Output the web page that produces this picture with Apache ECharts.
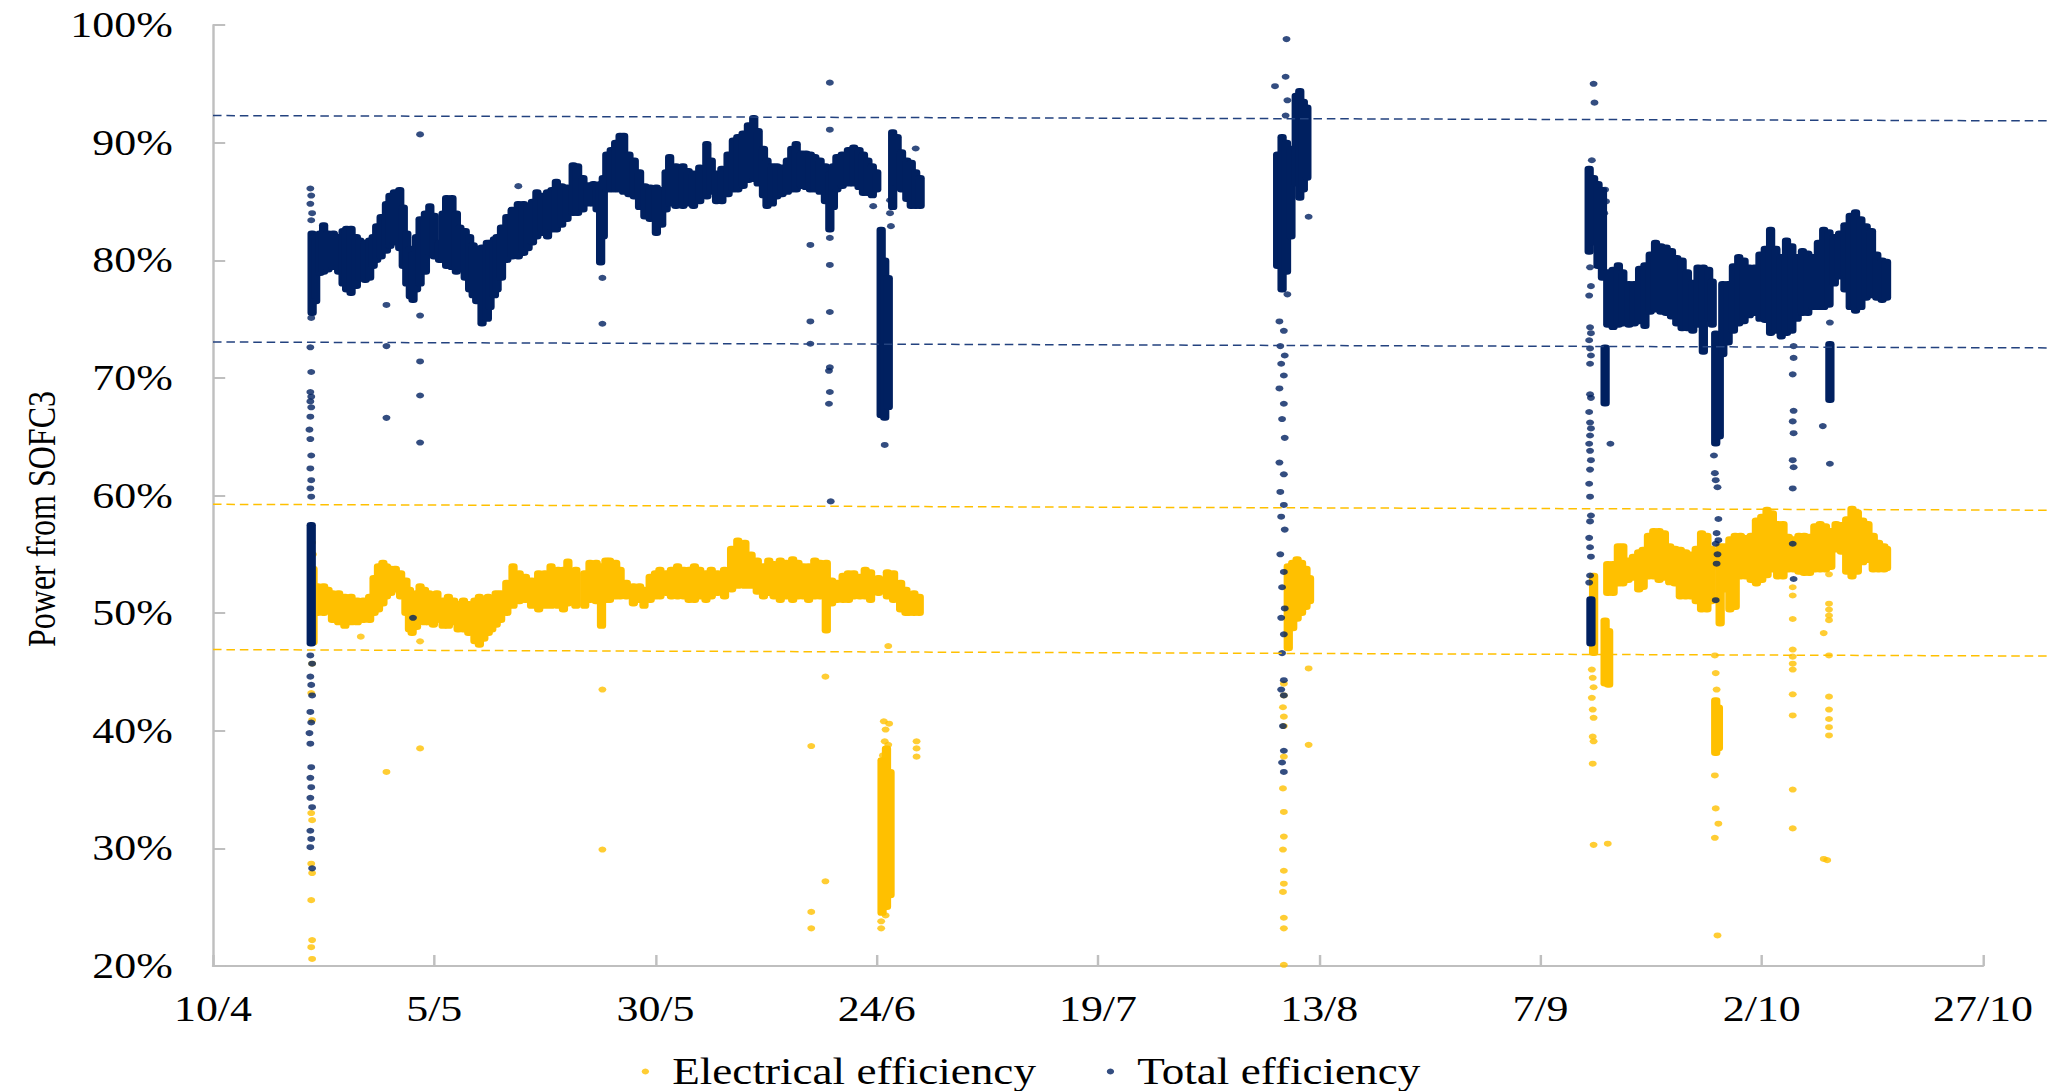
<!DOCTYPE html>
<html><head><meta charset="utf-8">
<script src="https://cdn.jsdelivr.net/npm/echarts@6/dist/echarts.min.js"></script>
<style>
html,body{margin:0;padding:0;overflow:hidden;background:#fff}
#chart{width:1678px;height:1091px;transform:scaleX(1.22);transform-origin:0 0;}
</style></head>
<body><div id="chart"></div>
<script>
// x values are days counted from 10/4
const tickLabels = ['10/4','5/5','30/5','24/6','19/7','13/8','7/9','2/10','27/10'];
const tickStepDays = 25;

// dense parts: [day, low %, high %]
const totalBand = [
[11.1,47.4,57.5],[11.2,75.5,82.3],[11.6,76.5,82.0],
[12.1,78.9,82.3],[12.5,79.0,83.0],[13.0,79.2,82.3],[13.6,79.4,82.3],[14.2,79.0,82.0],[14.7,78.0,82.5],[15.1,77.5,82.7],[15.6,77.2,82.7],[16.2,77.8,82.0],[16.6,78.5,81.7],[17.2,78.3,81.5],[17.7,78.5,81.7],[18.1,79.5,82.0],[18.5,80.0,82.9],[19.0,80.3,83.7],[19.6,80.8,84.8],[20.0,81.2,85.5],[20.5,81.5,85.8],[21.1,81.0,86.0],[21.5,79.5,84.5],[21.9,78.0,82.3],[22.3,76.9,81.0],[22.6,76.6,80.5],[23.0,77.5,82.0],[23.4,78.0,83.5],[24.0,79.0,84.0],[24.5,80.6,84.6],[25.0,80.3,83.8],[25.6,80.0,81.5],[26.0,80.0,84.0],[26.4,79.5,85.3],[27.0,79.4,85.3],[27.5,79.0,84.0],[27.9,79.3,82.8],[28.5,78.5,82.5],[29.0,77.5,82.0],[29.4,77.0,81.3],[29.8,76.5,81.0],[30.4,74.6,81.1],[31.0,75.0,81.5],[31.3,76.0,81.5],[31.8,77.0,81.8],[32.1,77.5,82.0],[32.6,78.5,82.8],[33.2,80.0,83.7],[33.8,80.3,84.3],[34.5,80.3,84.8],[35.1,80.6,84.8],[35.6,81.0,84.5],[36.1,81.5,85.0],[36.6,82.0,85.8],[37.2,82.3,85.5],[37.8,82.0,85.8],[38.3,82.6,86.0],[38.8,82.6,86.7],[39.4,83.0,86.3],[40.0,83.5,86.2],[40.7,84.0,88.1],[41.2,84.0,88.0],[41.8,84.3,87.0],[42.4,84.8,86.4],[43.0,84.8,86.5],[43.4,84.3,86.4],[43.8,79.8,86.5],[44.1,82.0,87.0],[44.5,86.0,89.0],[45.0,86.0,89.4],[45.5,86.0,90.0],[46.0,86.0,90.6],[46.4,85.8,90.6],[47.0,85.6,89.0],[47.6,85.4,88.5],[48.2,84.5,87.5],[48.8,83.7,86.3],[49.4,83.5,86.2],[50.1,82.3,86.2],[50.7,83.0,86.0],[51.2,84.3,87.5],[51.6,84.8,88.8],[52.3,84.6,88.0],[53.1,84.6,88.0],[53.7,84.8,87.6],[54.3,84.6,87.4],[55.0,85.0,87.9],[55.8,85.4,89.9],[56.3,85.8,88.5],[56.9,85.0,87.4],[57.5,85.0,87.8],[58.2,85.6,89.0],[58.8,86.0,90.2],[59.3,86.0,90.5],[59.9,86.3,90.8],[60.5,86.8,91.5],[61.1,86.9,92.1],[61.6,86.5,91.0],[62.2,85.5,89.5],[62.6,84.6,88.5],[63.2,84.8,88.0],[63.7,85.4,88.0],[64.3,85.6,87.9],[64.9,85.8,88.5],[65.4,86.0,89.5],[65.9,86.0,89.9],[66.5,86.3,89.1],[67.0,86.2,89.1],[67.5,86.0,89.0],[68.0,86.0,88.8],[68.6,85.8,88.5],[69.2,85.0,88.0],[69.7,82.6,87.3],[70.1,84.5,88.0],[70.5,86.0,88.8],[71.1,86.3,89.0],[71.8,86.5,89.4],[72.4,86.5,89.6],[73.0,86.2,89.4],[73.5,85.7,89.0],[74.0,85.7,88.5],[74.5,85.5,88.0],[75.0,86.0,87.5],
[75.5,66.8,82.6],[75.9,66.6,80.0],[76.3,67.5,78.5],
[76.8,84.5,90.9],[77.3,86.5,90.5],[77.8,86.0,89.2],[78.4,85.2,88.5],[78.9,84.6,88.3],[79.4,84.6,87.5],[79.9,84.6,87.0],
[120.3,79.5,89.0],[120.8,77.5,90.5],[121.3,79.0,90.0],[121.8,82.0,89.5],[122.4,86.5,94.0],[122.8,85.3,94.4],[123.2,86.0,93.5],[123.6,87.0,93.0],
[155.5,80.7,87.8],[155.7,47.4,51.2],[156.0,81.5,87.0],[156.5,79.5,86.5],[157.0,78.5,86.0],[157.3,67.8,72.6],
[157.6,74.5,79.0],[158.2,74.3,79.2],[158.8,74.5,79.6],[159.3,74.6,79.0],[160.0,74.5,78.0],[160.6,74.6,78.0],[161.2,74.8,79.3],[161.8,74.4,79.6],[162.4,75.6,80.5],[163.0,75.8,81.5],[163.6,75.6,81.2],[164.2,75.5,81.1],[164.8,75.2,80.8],[165.4,74.6,80.2],[166.0,74.2,80.0],[166.6,74.2,79.0],[167.2,74.0,78.1],[167.8,74.5,79.4],[168.4,72.2,79.4],[169.0,75.0,79.2],[169.4,74.5,78.2],[169.8,64.4,73.8],[170.2,65.0,72.0],[170.6,72.0,78.0],[171.2,73.0,78.0],[171.8,74.0,79.5],[172.4,74.6,80.3],[173.0,74.8,80.0],[173.6,75.3,79.4],[174.2,75.5,79.4],[174.8,75.0,80.5],[175.4,74.9,81.0],[176.0,73.8,82.6],[176.6,74.0,81.0],[177.2,73.5,80.3],[177.8,73.8,81.7],[178.4,74.0,81.2],[179.0,75.0,80.3],[179.6,75.5,80.8],[180.2,75.5,80.6],[180.8,76.0,80.3],[181.4,76.0,81.5],[182.0,76.0,82.6],[182.6,76.2,82.4],[182.7,68.1,72.9],[183.2,78.0,82.0],[183.8,78.6,82.3],[184.4,77.5,83.0],[185.0,76.0,83.8],[185.6,75.7,84.1],[186.2,76.0,83.5],[186.8,76.8,82.9],[187.4,77.0,82.5],[188.0,76.8,80.5],[188.6,76.6,80.0],[189.1,76.8,79.9]
];

// single points: [day, %]
const totalPts = [
[11.0,86.1],[11.1,85.5],[11.0,84.8],[11.2,84.0],[11.1,83.4],[11.3,76.5],[11.1,75.1],[11.0,72.6],[11.1,70.5],[11.0,68.8],[11.1,68.4],[11.0,68.0],[11.1,67.5],[11.0,66.7],[10.9,65.6],[11.0,64.8],[11.1,63.4],[11.0,62.3],[11.1,61.3],[11.0,60.6],[11.1,59.9],[11.0,46.4],[11.2,45.7],[11.0,44.6],[11.1,43.9],[11.2,43.0],[11.0,41.6],[11.1,40.7],[10.9,39.8],[11.0,38.9],[11.1,36.9],[11.0,36.0],[11.1,35.2],[11.0,34.3],[11.2,33.5],[11.0,31.5],[11.1,30.8],[11.0,30.1],[11.2,28.3],
[19.6,76.2],[19.6,72.7],[19.6,66.6],[23.4,90.7],[23.4,75.3],[23.4,71.4],[23.4,68.5],[23.4,64.5],[22.6,49.6],[34.5,86.3],[44.0,78.5],[44.0,74.6],[67.5,81.3],[67.5,74.8],[67.5,72.9],[69.7,95.1],[69.7,91.1],[69.7,81.9],[69.7,79.6],[69.7,75.6],[69.7,70.9],[69.6,70.6],[69.7,68.8],[69.6,67.8],[69.8,59.5],[74.6,84.6],[75.9,64.3],[76.5,85.1],[76.5,84.0],[76.6,82.9],[79.4,89.5],
[121.3,98.8],[121.2,95.6],[120.0,94.8],[121.4,93.6],[121.2,92.3],[123.8,83.7],[121.4,77.1],[120.5,74.8],[121.0,74.0],[120.6,72.7],[121.1,71.9],[120.7,71.2],[121.0,70.2],[120.5,69.1],[121.0,67.8],[120.8,66.5],[121.1,64.9],[120.5,62.8],[121.0,61.8],[120.6,60.3],[121.0,59.2],[120.7,58.2],[121.1,57.1],[120.6,55.0],[121.0,53.5],[120.8,52.2],[121.1,50.4],[120.7,49.6],[121.0,48.2],[120.8,46.6],[121.0,44.3],[120.7,43.5],[121.0,43.0],[120.9,40.4],[121.0,38.3],[120.8,37.3],[121.0,36.5],
[156.0,95.0],[156.1,93.4],[155.8,88.5],[155.6,79.4],[155.7,77.8],[155.5,77.0],[155.6,74.3],[155.7,73.8],[155.5,73.2],[155.6,72.5],[155.7,71.9],[155.6,71.2],[155.6,68.6],[155.7,68.3],[155.5,67.1],[155.6,66.2],[155.7,65.7],[155.6,65.1],[155.5,64.4],[155.6,63.8],[155.7,63.0],[155.6,62.2],[155.5,61.0],[155.6,59.9],[155.7,58.3],[155.6,57.8],[155.5,56.4],[155.6,55.6],[155.7,54.8],[155.6,53.2],[155.5,52.6],
[157.3,86.0],[157.4,85.0],[157.2,84.0],[157.9,64.4],
[169.6,63.4],[169.7,61.9],[169.8,61.3],[170.0,60.7],[170.1,58.0],[169.9,56.8],[170.1,56.2],[169.8,55.9],[170.0,55.0],[169.9,54.2],[169.8,51.1],
[178.6,72.7],[178.6,71.7],[178.5,70.3],[178.6,67.2],[178.5,66.3],[178.6,65.3],[178.5,63.0],[178.6,62.4],[178.5,60.6],[178.5,55.9],[178.6,52.9],
[182.7,74.7],[181.9,65.9],[182.7,62.7]
];

const elecBand = [
[11.3,47.5,53.8],[11.8,50.0,52.3],[12.5,50.0,52.3],[13.0,50.3,52.0],[13.5,49.4,51.7],[14.2,49.2,51.7],[14.9,48.9,51.4],[15.6,49.2,51.4],[16.3,49.2,51.1],[17.0,49.4,51.1],[17.7,49.4,51.4],[18.2,50.0,53.0],[18.7,50.3,54.0],[19.2,50.8,54.3],[19.6,51.4,54.0],[20.1,51.7,53.8],[20.6,52.0,53.8],[21.2,51.4,53.4],[21.8,50.0,52.8],[22.2,48.6,52.0],[22.5,48.3,51.4],[23.0,48.8,51.7],[23.4,49.4,52.3],[23.9,49.2,52.0],[24.4,49.2,51.7],[24.9,49.0,51.4],[25.3,49.4,51.7],[26.0,48.9,51.1],[26.6,48.9,51.4],[27.2,49.2,51.1],[27.7,48.6,50.8],[28.3,48.6,51.1],[28.9,48.3,50.8],[29.6,47.6,51.1],[30.1,47.3,51.4],[30.6,47.8,51.1],[31.1,48.3,51.4],[31.5,48.6,51.1],[32.0,49.0,51.7],[32.5,49.4,51.7],[33.2,50.0,52.6],[33.9,50.6,54.0],[34.6,51.0,53.4],[35.3,51.1,53.1],[36.0,50.6,52.8],[36.8,50.3,53.4],[37.5,50.6,53.4],[38.2,50.6,54.0],[39.0,50.6,53.7],[39.6,50.3,53.7],[40.1,50.8,54.4],[41.0,50.6,53.7],[42.0,50.6,53.4],[42.6,51.1,54.3],[43.3,51.0,54.3],[43.9,48.9,54.0],[44.4,51.1,54.5],[44.8,51.1,54.5],[45.5,51.4,54.3],[46.0,51.4,53.7],[46.7,51.4,52.6],[47.5,50.8,52.3],[48.2,51.1,52.3],[48.7,50.6,52.0],[49.4,51.1,53.1],[50.0,51.4,53.4],[50.5,51.4,53.7],[51.2,51.7,53.4],[51.8,51.4,53.7],[52.5,51.4,54.0],[53.2,51.4,53.7],[53.8,51.1,53.7],[54.4,51.1,54.0],[55.0,51.4,53.7],[55.7,51.1,53.4],[56.3,51.4,53.7],[57.0,51.7,53.4],[57.8,51.4,53.7],[58.6,52.0,55.5],[59.3,52.3,56.2],[60.1,52.3,56.0],[60.8,52.3,55.0],[61.5,51.8,54.5],[62.2,51.4,54.0],[62.8,51.7,54.5],[63.4,51.4,54.2],[64.1,51.1,54.5],[64.8,51.4,54.3],[65.5,51.1,54.6],[66.1,51.4,54.3],[66.7,51.4,54.0],[67.3,51.1,54.0],[68.0,51.4,54.5],[68.6,51.4,54.3],[69.3,48.5,54.3],[69.9,50.8,52.8],[70.5,51.1,52.6],[71.2,51.1,53.2],[71.8,51.1,53.4],[72.4,51.4,53.4],[73.1,51.4,53.1],[73.7,51.4,53.7],[74.3,51.1,53.5],[75.2,51.7,53.0],[76.2,51.4,53.5],[76.9,51.1,53.4],[77.7,50.3,52.6],[78.3,50.0,52.0],[78.6,50.0,51.4],[79.2,50.0,51.7],[79.8,50.0,51.4],
[75.6,24.5,37.5],[76.1,25.0,38.5],[76.5,26.0,36.5],
[121.5,47.0,54.0],[122.0,48.7,54.3],[122.5,49.5,54.6],[123.0,50.0,54.3],[123.5,50.5,53.8],[123.9,51.0,53.0],
[156.0,46.6,53.2],[157.3,44.0,49.4],[157.7,43.9,48.5],[169.8,38.1,42.6],[170.1,38.5,42.0],
[157.6,51.7,54.2],[158.2,51.7,54.2],[158.8,52.5,55.7],[159.3,52.5,55.7],[159.9,52.8,54.5],[160.5,53.0,54.8],[161.1,52.0,55.2],[161.6,52.2,55.4],[162.2,53.1,56.6],[162.8,53.1,57.0],[163.4,52.8,57.0],[164.0,53.0,56.8],[164.6,52.6,55.7],[165.2,52.5,55.5],[165.8,51.4,55.4],[166.4,51.4,55.2],[167.0,51.4,55.0],[167.6,51.0,55.5],[168.2,50.3,56.8],[168.8,50.3,56.6],[169.3,51.0,55.5],[170.3,49.1,55.7],[170.8,52.0,55.7],[171.4,50.3,56.3],[172.0,50.5,56.6],[172.6,53.1,56.6],[173.2,53.1,56.4],[173.8,52.8,56.6],[174.4,52.5,57.9],[175.0,52.8,58.2],[175.6,53.2,58.8],[176.2,53.7,58.5],[176.8,53.1,57.6],[177.4,53.1,57.6],[178.0,53.7,56.5],[178.6,53.7,56.3],[179.2,53.5,56.6],[179.8,53.4,56.6],[180.4,53.4,56.5],[181.0,53.7,57.4],[181.6,53.7,57.6],[182.2,53.7,57.4],[182.8,53.9,57.0],[183.4,55.4,57.6],[184.0,55.2,57.5],[184.6,53.5,58.0],[185.2,53.1,58.9],[185.8,53.5,58.6],[186.4,54.3,57.9],[187.0,54.5,57.6],[187.6,53.7,56.6],[188.2,53.7,56.0],[188.8,53.7,55.7],[189.1,53.8,55.5]
];

const elecPts = [
[11.2,56.0],[11.3,55.0],[11.2,45.7],[11.1,43.2],[11.2,40.9],[11.1,33.0],[11.2,32.4],[11.1,28.7],[11.2,27.9],[11.1,25.6],[11.2,22.2],[11.1,21.6],[11.2,20.6],
[16.7,48.0],[19.6,36.5],[23.4,38.5],[23.4,47.6],[44.0,43.5],[44.0,29.9],[67.6,38.7],[67.6,24.6],[67.6,23.2],[69.2,44.6],[69.2,27.2],[76.3,47.2],[79.5,39.1],[79.5,38.5],[79.5,37.8],
[75.8,40.8],[76.4,40.6],[76.0,40.1],[75.9,39.1],[76.3,38.8],[75.7,37.9],[75.5,23.2],[75.5,23.8],[76.0,24.3],
[123.8,45.3],[123.8,38.8],[121.0,44.0],[121.0,43.0],[120.9,42.0],[121.0,41.2],[121.0,40.4],[121.0,37.8],[120.9,35.1],[121.0,33.1],[121.0,31.0],[120.9,29.9],[121.0,28.1],[121.0,27.0],[120.9,26.3],[121.0,24.1],[121.0,23.2],[121.0,20.1],
[155.8,45.2],[155.9,44.5],[156.0,43.7],[155.8,42.8],[155.9,41.8],[156.0,41.1],[155.9,39.5],[156.0,39.1],[155.9,37.2],[156.0,30.3],[157.6,30.4],
[169.7,46.4],[169.8,44.9],[169.9,43.5],[169.7,36.2],[169.8,33.4],[170.1,32.1],[169.7,30.9],[170.0,22.6],
[178.5,52.2],[178.5,51.5],[178.5,49.5],[178.5,46.9],[178.5,46.3],[178.5,45.7],[178.5,45.2],[178.5,43.1],[178.5,41.3],[178.5,35.0],[178.5,31.7],
[182.0,48.3],[182.6,53.3],[182.6,50.8],[182.6,50.3],[182.6,49.8],[182.6,49.4],[182.6,46.4],[182.6,42.9],[182.6,41.8],[182.6,41.0],[182.6,40.3],[182.6,39.6],[182.0,29.1],[182.4,29.0]
];

// dashed reference lines: [value at left edge, value at right edge]
const totalUpperRef = [92.3, 91.85];
const totalLowerRef = [73.05, 72.55];
const elecUpperRef = [59.25, 58.75];
const elecLowerRef = [46.9, 46.35];

const NAVY = '#002060', GOLD = '#FFC000';
const S = 1.22;                 // horizontal stretch of the reference
const W = 1678;                 // container width before stretch
const GL = 213 / S, GR = W - 1983 / S, GT = 25, GB = 125;
const refXMax = 200 * (W - GL) / (W - GL - GR);
const FONT = "'Liberation Serif','Times New Roman',serif";

function band(color) {
  return function (params, api) {
    const x = api.value(0), lo = api.value(1), hi = api.value(2);
    const a = api.coord([x, hi]), b = api.coord([x, lo]);
    const w = 7.6, pad = 2.8;
    return { type: 'rect',
      shape: { x: a[0] - w / 2, y: a[1] - pad, width: w, height: b[1] - a[1] + 2 * pad, r: 3.2 },
      style: { fill: color } };
  };
}
function refLine(name, vals, color) {
  return { name: name, type: 'line', xAxisIndex: 1, yAxisIndex: 1, symbol: 'none', silent: true, z: 5,
    data: [[0, vals[0]], [refXMax, vals[1]]],
    lineStyle: { color: color, width: 1.5, type: [7, 4] } };
}

const chart = echarts.init(document.getElementById('chart'), null, { renderer: 'svg' });
chart.setOption({
  animation: false,
  backgroundColor: '#fff',
  grid: [
    { left: GL, right: GR, top: GT, bottom: GB },
    { left: GL, right: 0, top: GT, bottom: GB }
  ],
  xAxis: [
    { type: 'value', gridIndex: 0, min: 0, max: 200, interval: tickStepDays,
      axisLine: { lineStyle: { color: '#BFBFBF', width: 2 } },
      axisTick: { inside: true, length: 11, lineStyle: { color: '#BFBFBF', width: 2 } },
      splitLine: { show: false },
      axisLabel: { margin: 25, color: '#000', fontFamily: FONT, fontSize: 36,
        formatter: v => tickLabels[Math.round(v / tickStepDays)] } },
    { type: 'value', gridIndex: 1, min: 0, max: refXMax, show: false }
  ],
  yAxis: [
    { type: 'value', gridIndex: 0, min: 20, max: 100, interval: 10,
      axisLine: { show: true, lineStyle: { color: '#BFBFBF', width: 2 } },
      axisTick: { show: true, inside: true, length: 10, lineStyle: { color: '#BFBFBF', width: 2 } },
      splitLine: { show: false },
      axisLabel: { margin: 33, color: '#000', fontFamily: FONT, fontSize: 36, formatter: '{value}%' } },
    { type: 'value', gridIndex: 1, min: 20, max: 100, show: false }
  ],
  legend: {
    data: ['Electrical efficiency', 'Total efficiency'],
    left: 521, top: 1048, icon: 'circle', itemWidth: 6, itemHeight: 6, itemGap: 58,
    textStyle: { fontFamily: FONT, fontSize: 37, color: '#000', lineHeight: 37, padding: [0, 0, 0, 14] }
  },
  graphic: [{
    type: 'text', x: 34, y: 519, rotation: Math.PI / 2,
    style: { text: 'Power from SOFC3', font: "32px 'Liberation Serif','Times New Roman',serif",
      fill: '#000', textAlign: 'center', textVerticalAlign: 'middle' }
  }],
  series: [
    { name: 'Electrical efficiency', type: 'scatter', data: elecPts, symbolSize: [6.5, 6],
      itemStyle: { color: GOLD }, z: 2 },
    { name: 'elecBand', type: 'custom', data: elecBand, renderItem: band(GOLD),
      encode: { x: 0, y: [1, 2] }, itemStyle: { color: GOLD }, z: 2 },
    { name: 'Total efficiency', type: 'scatter', data: totalPts, symbolSize: [6.5, 6],
      itemStyle: { color: NAVY }, z: 3 },
    { name: 'totalBand', type: 'custom', data: totalBand, renderItem: band(NAVY),
      encode: { x: 0, y: [1, 2] }, itemStyle: { color: NAVY }, z: 3 },
    refLine('ref1', totalUpperRef, '#23427F'),
    refLine('ref2', totalLowerRef, '#23427F'),
    refLine('ref3', elecUpperRef, GOLD),
    refLine('ref4', elecLowerRef, GOLD)
  ]
});
</script></body></html>
